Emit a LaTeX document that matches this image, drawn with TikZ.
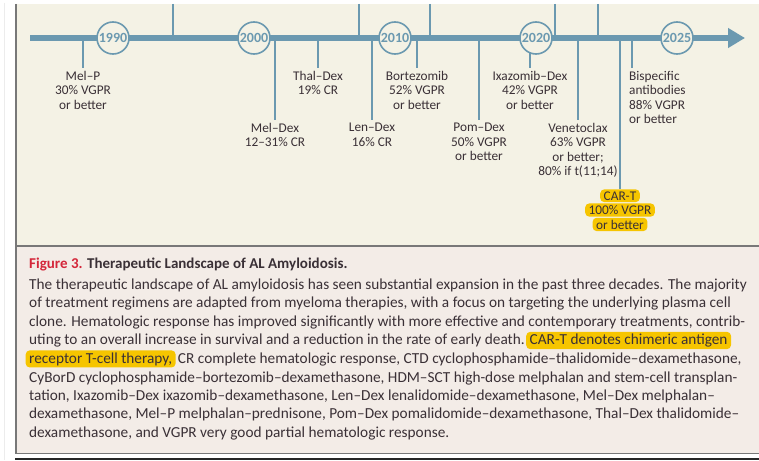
\documentclass[tikz,border=0pt]{standalone}
\usepackage{fontspec}
\setmainfont{Carlito}
\usepackage{tikz}
\usetikzlibrary{positioning,arrows.meta}
\definecolor{tlblue}{RGB}{107,153,176}
\definecolor{paneltan}{RGB}{244,242,229}
\definecolor{capbg}{RGB}{243,236,231}
\definecolor{hlyellow}{RGB}{246,197,0}
\definecolor{figred}{RGB}{212,38,58}
\definecolor{inkgray}{RGB}{58,48,54}
\definecolor{rulegray}{RGB}{120,120,120}
\newcommand{\lblfont}{\fontsize{13.3}{14.5}\selectfont}
\newcommand{\capfont}{\fontsize{15.3}{18.5}\selectfont}
\tikzstyle{year} = [circle, draw=tlblue, line width=1.6pt, fill=paneltan,
    minimum size=32pt, inner sep=0pt, text=tlblue, font=\fontsize{14}{14}\selectfont\bfseries]
\tikzstyle{lbl} = [align=center, inner sep=3pt, text=inkgray, font=\lblfont]
\tikzstyle{stem} = [draw=tlblue, line width=2.7pt]
\tikzstyle{hilite} = [fill=hlyellow, rounded corners=4pt, inner xsep=3.5pt,
    inner ysep=2pt, text=inkgray]
\tikzstyle{capline} = [anchor=base west, inner sep=0pt, text=inkgray, font=\capfont]

\begin{document}
\begin{tikzpicture}[x=1pt, y=-1pt]
   \useasboundingbox (0,0) rectangle (759,460);
   % Panels and rules
    \fill[white] (0,0) rectangle (759,460);
    \fill[paneltan] (17,4) rectangle (759,245.5);
    \fill[capbg] (17,246.5) rectangle (759,453);
    \draw[gray!15, line width=0.8pt] (4,3) -- (4,460);
    \draw[rulegray, line width=2pt] (16,4) -- (16,454);
    \draw[rulegray, line width=2pt] (17,246) -- (759,246);
    \draw[rulegray, line width=1.5pt] (15,453.5) -- (759,453.5);
    \draw[black!85, line width=2pt] (15,459) -- (759,459);
   % Time axis
    \coordinate (tstart) at (30,38);
    \coordinate (tend) at (745,38);
    \foreach \x/\n in {173/u1, 359/u2, 430/u3, 555/u4, 598/u5}
      \coordinate (\n) at (\x,4);
    \foreach \n in {u1,u2,u3,u4,u5}
      \path [stem] (\n) -- (\n |- tstart);
    \draw[tlblue, line width=5.5pt, -{Triangle[length=17pt, width=19pt]}] (tstart) -- (tend);
   % Place nodes
    \coordinate (melp) at (83,38);
    \coordinate (meldex) at (275,38);
    \coordinate (thal) at (318,38);
    \coordinate (lendex) at (372,38);
    \coordinate (bort) at (417,38);
    \coordinate (pomdex) at (479,38);
    \coordinate (ixa) at (530,38);
    \coordinate (venet) at (578,38);
    \coordinate (cart) at (620,38);
    \coordinate (bisp) at (632,38);
    \node [lbl, anchor=north] (melplbl) at (83,68) {Mel–P\\30\% VGPR\\or better};
    \node [lbl, anchor=north] (thallbl) at (318,68) {Thal–Dex\\19\% CR};
    \node [lbl, anchor=north] (bortlbl) at (417,68) {Bortezomib\\52\% VGPR\\or better};
    \node [lbl, anchor=north] (ixalbl) at (530,68) {Ixazomib–Dex\\42\% VGPR\\or better};
    \node [lbl, anchor=north west, align=left] (bisplbl) at (626,68) {Bispecific\\antibodies\\88\% VGPR\\or better};
    \node [lbl, anchor=north] (meldexlbl) at (275,120) {Mel–Dex\\12–31\% CR};
    \node [lbl, anchor=north] (lendexlbl) at (372,120) {Len–Dex\\16\% CR};
    \node [lbl, anchor=north] (pomdexlbl) at (479,120) {Pom–Dex\\50\% VGPR\\or better};
    \node [lbl, anchor=north] (venetlbl) at (578,120) {Venetoclax\\63\% VGPR\\or better;\\80\% if t(11;14)};
    \node [hilite, font=\lblfont, anchor=base] (cart1) at (620,200) {CAR-T};
    \node [hilite, font=\lblfont, anchor=base] (cart2) at ([yshift=-14.5pt]cart1.base) {100\% VGPR};
    \node [hilite, font=\lblfont, anchor=base] (cart3) at ([yshift=-14.5pt]cart2.base) {or better};
   % Draw edges
    \path [stem] (melp) -- (melp |- melplbl.north);
    \path [stem] (thal) -- (thal |- thallbl.north);
    \path [stem] (bort) -- (bort |- bortlbl.north);
    \path [stem] (ixa) -- (ixa |- ixalbl.north);
    \path [stem] (bisp) -- (bisp |- bisplbl.north);
    \path [stem] (meldex) -- (meldex |- meldexlbl.north);
    \path [stem] (lendex) -- (lendex |- lendexlbl.north);
    \path [stem] (pomdex) -- (pomdex |- pomdexlbl.north);
    \path [stem] (venet) -- (venet |- venetlbl.north);
    \path [stem] (cart) -- (cart |- cart1.north);
   % Year markers on top
    \foreach \y/\yr in {113/1990, 254/2000, 395/2010, 536/2020, 677/2025}
      \node [year] (y\yr) at (\y,38) {\yr};
   % Caption
    \node [capline, font=\fontsize{15}{18.5}\selectfont\bfseries] (title) at (29,268)
      {\textcolor{figred}{Figure 3.} Therapeutic Landscape of AL Amyloidosis.};
    \node [capline] (l1) at (29,289) {The therapeutic landscape of AL amyloidosis has seen substantial expansion in the past three decades. The majority};
    \node [capline] (l2) at (29,307.5) {of treatment regimens are adapted from myeloma therapies, with a focus on targeting the underlying plasma cell};
    \node [capline] (l3) at (29,326) {clone. Hematologic response has improved significantly with more effective and contemporary treatments, contrib-};
    \node [capline] (l4) at (29,344.5) {uting to an overall increase in survival and a reduction in the rate of early death.};
    \node [hilite, font=\capfont, anchor=base west] (hl4) at ([xshift=1pt]l4.base east) {CAR-T denotes chimeric antigen};
    \node [hilite, font=\capfont, anchor=base west] (hl5) at (25.5,363) {receptor T-cell therapy,};
    \node [capline] (l5) at ([xshift=2pt]hl5.base east) {CR complete hematologic response, CTD cyclophosphamide–thalidomide–dexamethasone,};
    \node [capline] (l6) at (29,382) {CyBorD cyclophosphamide–bortezomib–dexamethasone, HDM–SCT high-dose melphalan and stem-cell transplan-};
    \node [capline] (l7) at (29,400) {tation, Ixazomib–Dex ixazomib–dexamethasone, Len–Dex lenalidomide–dexamethasone, Mel–Dex melphalan–};
    \node [capline] (l8) at (29,418.5) {dexamethasone, Mel–P melphalan–prednisone, Pom–Dex pomalidomide–dexamethasone, Thal–Dex thalidomide–};
    \node [capline] (l9) at (29,437) {dexamethasone, and VGPR very good partial hematologic response.};
\end{tikzpicture}
\end{document}
